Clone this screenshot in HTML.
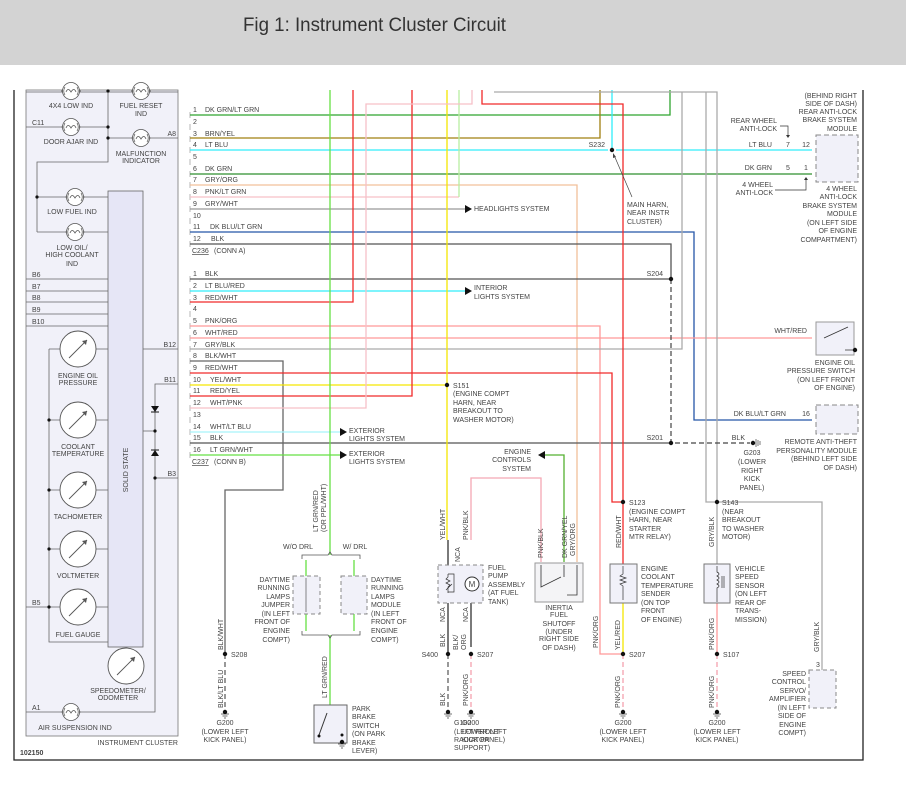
<!DOCTYPE html>
<html><head><meta charset="utf-8"><style>
html,body{margin:0;padding:0;background:#fff;}
svg{display:block;}
text{font-family:"Liberation Sans",sans-serif;font-size:7px;fill:#444;}
.r{text-anchor:end}.m{text-anchor:middle}
</style></head><body>
<svg width="906" height="788" viewBox="0 0 906 788" xmlns="http://www.w3.org/2000/svg">
<defs>
<g id="lamp"><circle r="8.5" fill="#fff" stroke="#555" stroke-width="0.8"/><path d="M-5,1 q2,-5 5,0 q3,-5 5,0 M-10,0 h1.5 M8.5,0 h1.5" fill="none" stroke="#555" stroke-width="0.8"/><path d="M-6,-4 a7,7 0 0 0 0,8 M6,-4 a7,7 0 0 1 0,8" fill="none" stroke="#555" stroke-width="0.7"/></g>
<g id="gauge"><circle r="18" fill="#fff" stroke="#555" stroke-width="0.9"/><path d="M-9,9 L9,-9" stroke="#555" stroke-width="0.9"/><path d="M9,-9 l-5,1 l4,4z" fill="#555"/></g>
<g id="gnd"><path d="M-4,2 h8 M-2.5,4 h5 M-1,6 h2" stroke="#444" stroke-width="0.7"/><circle r="2.2" fill="#111"/></g>
</defs>
<rect x="0" y="0" width="906" height="65" fill="#d3d3d3"/>
<text x="243" y="31" style="font-size:19px;fill:#333" textLength="263" lengthAdjust="spacingAndGlyphs">Fig 1: Instrument Cluster Circuit</text>

<!-- frame -->
<path d="M14,90 V760 H863 V90" fill="none" stroke="#222" stroke-width="1.3"/>

<!-- instrument cluster -->
<rect x="26" y="90" width="152" height="646" fill="#f1f1f9" stroke="#777" stroke-width="0.8"/>
<rect x="108" y="191" width="35" height="456" fill="#e6e6f6" stroke="#666" stroke-width="0.8"/>
<text transform="translate(128,470) rotate(-90)" class="m">SOLID STATE</text>
<g stroke="#666" stroke-width="0.8" fill="none">
<path d="M26,92 H178 M26,127 H108 M108,138 H178 M108,91 V162 H37 V232 M37,197 H108 M37,232 H108"/>
<path d="M26,279 H108 M26,291 H108 M26,302 H108 M26,314 H108 M26,326 H108"/>
<path d="M96,349 H108 M96,420 H108 M96,490 H108 M96,549 H108 M96,607 H108 M49,349 H60 M49,349 V642 H108 M49,420 H60 M49,490 H60 M49,549 H60 M26,607 H60"/>
<path d="M143,349 H178 M178,384 H155 V712 H26 M143,431 H155 M155,478 H178"/>
</g>
<g fill="#111"><circle cx="108" cy="91" r="1.6"/><circle cx="108" cy="127" r="1.6"/><circle cx="108" cy="138" r="1.6"/><circle cx="37" cy="197" r="1.6"/><circle cx="49" cy="420" r="1.6"/><circle cx="49" cy="490" r="1.6"/><circle cx="49" cy="549" r="1.6"/><circle cx="49" cy="607" r="1.6"/><circle cx="155" cy="431" r="1.6"/><circle cx="155" cy="478" r="1.6"/>
<path d="M151,406 h8 l-4,6z M151,456 h8 l-4,-6z"/></g>
<path d="M151,412 h8 M151,450 h8" stroke="#111"/>
<use href="#lamp" x="71" y="91"/><use href="#lamp" x="141" y="91"/><use href="#lamp" x="71" y="127"/><use href="#lamp" x="141" y="138"/><use href="#lamp" x="75" y="197"/><use href="#lamp" x="75" y="232"/><use href="#lamp" x="71" y="712"/>
<use href="#gauge" x="78" y="349"/><use href="#gauge" x="78" y="420"/><use href="#gauge" x="78" y="490"/><use href="#gauge" x="78" y="549"/><use href="#gauge" x="78" y="607"/><use href="#gauge" x="126" y="666"/>
<text x="71" y="108" class="m">4X4 LOW IND</text>
<text x="141" y="108" class="m">FUEL RESET</text><text x="141" y="116" class="m">IND</text>
<text x="32" y="125">C11</text><text x="71" y="144" class="m">DOOR AJAR IND</text>
<text x="176" y="136" class="r">A8</text>
<text x="141" y="156" class="m">MALFUNCTION</text><text x="141" y="163" class="m">INDICATOR</text>
<text x="72" y="214" class="m">LOW FUEL IND</text>
<text x="72" y="250" class="m">LOW OIL/</text><text x="72" y="257" class="m">HIGH COOLANT</text><text x="72" y="266" class="m">IND</text>
<text x="32" y="277">B6</text><text x="32" y="289">B7</text><text x="32" y="300">B8</text><text x="32" y="312">B9</text><text x="32" y="324">B10</text>
<text x="176" y="347" class="r">B12</text><text x="176" y="382" class="r">B11</text><text x="176" y="476" class="r">B3</text><text x="32" y="605">B5</text><text x="32" y="710">A1</text>
<text x="78" y="378" class="m">ENGINE OIL</text><text x="78" y="385" class="m">PRESSURE</text>
<text x="78" y="449" class="m">COOLANT</text><text x="78" y="456" class="m">TEMPERATURE</text>
<text x="78" y="519" class="m">TACHOMETER</text><text x="78" y="578" class="m">VOLTMETER</text><text x="78" y="637" class="m">FUEL GAUGE</text>
<text x="118" y="693" class="m">SPEEDOMETER/</text><text x="118" y="700" class="m">ODOMETER</text>
<text x="75" y="730" class="m">AIR SUSPENSION IND</text>
<text x="178" y="745" class="r">INSTRUMENT CLUSTER</text>
<text x="20" y="755" style="font-weight:bold">102150</text>

<!-- connector marks -->
<g stroke="#888" stroke-width="0.6" fill="none">
<path d="M190,112 v6 M190,124 v6 M190,136 v6 M190,147 v6 M190,159 v6 M190,171 v6 M190,182 v6 M190,194 v6 M190,206 v6 M190,218 v6 M190,229 v6 M190,241 v6"/>
<path d="M190,276 v6 M190,288 v6 M190,299 v6 M190,311 v6 M190,323 v6 M190,335 v6 M190,346 v6 M190,358 v6 M190,370 v6 M190,382 v6 M190,393 v6 M190,405 v6 M190,417 v6 M190,429 v6 M190,440 v6 M190,452 v6"/>
</g>

<!-- wires -->
<g fill="none" stroke-width="1.3">
<path d="M190,115 H670 V90" stroke="#2fa52f"/>
<path d="M190,138 H600 V90" stroke="#a08010"/>
<path d="M190,150 H608 M616,150 H812 M612,150 V90" stroke="#30eefa"/>
<path d="M190,174 H812" stroke="#2f8f2f"/>
<path d="M190,185 H577 V562" stroke="#f2c09a"/>
<path d="M190,197 H459" stroke="#f6c0c8"/><path d="M459,197 V90" stroke="#b8eea0"/>
<path d="M190,209 H465" stroke="#999"/>
<path d="M190,232 H694 V420 H812" stroke="#2556a8"/>
<path d="M190,244 H671 V279 M190,279 H671 M190,443 H671" stroke="#555"/>
<path d="M190,291 H465" stroke="#30eefa"/>
<path d="M190,302 H353 V90" stroke="#f02a2a"/>
<path d="M190,326 H600 V654 H623" stroke="#f99"/>
<path d="M190,338 H812" stroke="#f99"/>
<path d="M190,349 H682 V92 H494 M682,92 H717 V502 M706,92 V502 H717" stroke="#aaa"/>
<path d="M717,502 H822 V670 M717,502 V564" stroke="#aaa"/>
<path d="M190,361 H283 V490 H225 V654" stroke="#666"/>
<path d="M190,373 H612 V502 H623 M482,90 V104 H623 V564" stroke="#f02a2a"/>
<path d="M190,385 H447 M447,90 V540" stroke="#f5e600"/>
<path d="M190,396 H412 V90" stroke="#f02a2a"/>
<path d="M190,408 H366 V104 H472 V90" stroke="#f6c0c8"/>
<path d="M190,432 H340" stroke="#a8f4fa"/>
<path d="M190,455 H340" stroke="#66e044"/>
<path d="M330,90 V555 M330,635 V705" stroke="#66e044"/>
<path d="M471,540 V478 H541 V562" stroke="#f4a8b4"/>
<path d="M545,455 H564 V562" stroke="#55b030"/>
<path d="M623,603 V654" stroke="#f5e600"/>
<path d="M717,603 V654" stroke="#f99"/>
<path d="M448,540 V654 M471,603 V647" stroke="#333"/>
</g>
<path d="M671,279 V443 H750" fill="none" stroke="#444" stroke-width="1.2" stroke-dasharray="5,3"/>
<g fill="none" stroke-width="1.2" stroke-dasharray="5,3">
<path d="M225,654 V712" stroke="#555"/><path d="M448,654 V712" stroke="#555"/>
<path d="M471,654 V712" stroke="#f49aa8"/><path d="M623,654 V712" stroke="#f49aa8"/><path d="M717,654 V712" stroke="#f49aa8"/>
</g>
<!-- arrows -->
<g fill="#111"><path d="M465,205 l7,4 l-7,4z M465,287 l7,4 l-7,4z M340,428 l7,4 l-7,4z M340,451 l7,4 l-7,4z M545,451 l-7,4 l7,4z"/></g>
<!-- splices -->
<g fill="#111"><circle cx="612" cy="150" r="2.2"/><circle cx="671" cy="279" r="2.2"/><circle cx="671" cy="443" r="2.2"/><circle cx="447" cy="385" r="2.2"/><circle cx="623" cy="502" r="2.2"/><circle cx="717" cy="502" r="2.2"/><circle cx="225" cy="654" r="2.2"/><circle cx="448" cy="654" r="2.2"/><circle cx="471" cy="654" r="2.2"/><circle cx="623" cy="654" r="2.2"/><circle cx="717" cy="654" r="2.2"/><circle cx="753" cy="443" r="2.2"/></g>
<path d="M756,439 v8 M758,440 v6 M760,441 v4" stroke="#444" stroke-width="0.7"/>
<use href="#gnd" x="225" y="712"/><use href="#gnd" x="448" y="712"/><use href="#gnd" x="471" y="712"/><use href="#gnd" x="623" y="712"/><use href="#gnd" x="717" y="712"/>

<!-- pin labels A -->
<g>
<text x="193" y="112">1</text><text x="205" y="112">DK GRN/LT GRN</text>
<text x="193" y="124">2</text>
<text x="193" y="136">3</text><text x="205" y="136">BRN/YEL</text>
<text x="193" y="147">4</text><text x="205" y="147">LT BLU</text>
<text x="193" y="159">5</text>
<text x="193" y="171">6</text><text x="205" y="171">DK GRN</text>
<text x="193" y="182">7</text><text x="205" y="182">GRY/ORG</text>
<text x="193" y="194">8</text><text x="205" y="194">PNK/LT GRN</text>
<text x="193" y="206">9</text><text x="205" y="206">GRY/WHT</text>
<text x="193" y="218">10</text>
<text x="193" y="229">11</text><text x="210" y="229">DK BLU/LT GRN</text>
<text x="193" y="241">12</text><text x="211" y="241">BLK</text>
<text x="192" y="253" style="text-decoration:underline">C236</text><text x="214" y="253">(CONN A)</text>
<text x="193" y="276">1</text><text x="205" y="276">BLK</text>
<text x="193" y="288">2</text><text x="205" y="288">LT BLU/RED</text>
<text x="193" y="300">3</text><text x="205" y="300">RED/WHT</text>
<text x="193" y="311">4</text>
<text x="193" y="323">5</text><text x="205" y="323">PNK/ORG</text>
<text x="193" y="335">6</text><text x="205" y="335">WHT/RED</text>
<text x="193" y="347">7</text><text x="205" y="347">GRY/BLK</text>
<text x="193" y="358">8</text><text x="205" y="358">BLK/WHT</text>
<text x="193" y="370">9</text><text x="205" y="370">RED/WHT</text>
<text x="193" y="382">10</text><text x="210" y="382">YEL/WHT</text>
<text x="193" y="393">11</text><text x="210" y="393">RED/YEL</text>
<text x="193" y="405">12</text><text x="210" y="405">WHT/PNK</text>
<text x="193" y="417">13</text>
<text x="193" y="429">14</text><text x="210" y="429">WHT/LT BLU</text>
<text x="193" y="440">15</text><text x="210" y="440">BLK</text>
<text x="193" y="452">16</text><text x="210" y="452">LT GRN/WHT</text>
<text x="192" y="464" style="text-decoration:underline">C237</text><text x="214" y="464">(CONN B)</text>
</g>
<text x="474" y="211">HEADLIGHTS SYSTEM</text>
<text x="474" y="290">INTERIOR</text><text x="474" y="299">LIGHTS SYSTEM</text>
<text x="349" y="433">EXTERIOR</text><text x="349" y="441">LIGHTS SYSTEM</text>
<text x="349" y="456">EXTERIOR</text><text x="349" y="464">LIGHTS SYSTEM</text>
<text x="453" y="388">S151</text><text x="453" y="396">(ENGINE COMPT</text><text x="453" y="405">HARN, NEAR</text><text x="453" y="413">BREAKOUT TO</text><text x="453" y="422">WASHER MOTOR)</text>
<text x="531" y="454" class="r">ENGINE</text><text x="531" y="462" class="r">CONTROLS</text><text x="531" y="471" class="r">SYSTEM</text>
<text x="605" y="147" class="r">S232</text>
<path d="M632,197 L614,155" stroke="#444" stroke-width="0.7"/><path d="M613,153 l0,5 l3,-1z" fill="#444"/>
<text x="627" y="207">MAIN HARN,</text><text x="627" y="215">NEAR INSTR</text><text x="627" y="224">CLUSTER)</text>
<text x="663" y="276" class="r">S204</text><text x="663" y="440" class="r">S201</text>
<text x="745" y="440" class="r">BLK</text>
<text x="752" y="455" class="m">G203</text><text x="752" y="464" class="m">(LOWER</text><text x="752" y="473" class="m">RIGHT</text><text x="752" y="481" class="m">KICK</text><text x="752" y="490" class="m">PANEL)</text>

<!-- right modules -->
<rect x="816" y="135" width="42" height="47" fill="#f1f1f9" stroke="#888" stroke-dasharray="5,3"/>
<rect x="816" y="405" width="42" height="29" fill="#f1f1f9" stroke="#888" stroke-dasharray="5,3"/>
<rect x="816" y="322" width="38" height="33" fill="#f1f1f9" stroke="#999"/>
<path d="M824,338 l24,-11 M845,350 h9" stroke="#333" stroke-width="0.8"/><circle cx="855" cy="350" r="2.2" fill="#111"/>
<text x="857" y="98" class="r">(BEHIND RIGHT</text><text x="857" y="106" class="r">SIDE OF DASH)</text><text x="857" y="114" class="r">REAR ANTI-LOCK</text><text x="857" y="122" class="r">BRAKE SYSTEM</text><text x="857" y="131" class="r">MODULE</text>
<text x="777" y="123" class="r">REAR WHEEL</text><text x="777" y="131" class="r">ANTI-LOCK</text>
<path d="M780,126 H788 V136" stroke="#333" stroke-width="0.7" fill="none"/><path d="M786,135 h4 l-2,3z" fill="#333"/>
<text x="772" y="147" class="r">LT BLU</text><text x="788" y="147" class="m">7</text><text x="806" y="147" class="m">12</text>
<text x="772" y="170" class="r">DK GRN</text><text x="788" y="170" class="m">5</text><text x="806" y="170" class="m">1</text>
<text x="773" y="187" class="r">4 WHEEL</text><text x="773" y="195" class="r">ANTI-LOCK</text>
<path d="M775,190 H806 V179" stroke="#333" stroke-width="0.7" fill="none"/><path d="M804,180 h4 l-2,-3z" fill="#333"/>
<text x="857" y="191" class="r">4 WHEEL</text><text x="857" y="199" class="r">ANTI-LOCK</text><text x="857" y="208" class="r">BRAKE SYSTEM</text><text x="857" y="216" class="r">MODULE</text><text x="857" y="225" class="r">(ON LEFT SIDE</text><text x="857" y="233" class="r">OF ENGINE</text><text x="857" y="242" class="r">COMPARTMENT)</text>
<text x="807" y="333" class="r">WHT/RED</text>
<text x="855" y="365" class="r">ENGINE OIL</text><text x="855" y="373" class="r">PRESSURE SWITCH</text><text x="855" y="382" class="r">(ON LEFT FRONT</text><text x="855" y="390" class="r">OF ENGINE)</text>
<text x="786" y="416" class="r">DK BLU/LT GRN</text><text x="806" y="416" class="m">16</text>
<text x="857" y="444" class="r">REMOTE ANTI-THEFT</text><text x="857" y="453" class="r">PERSONALITY MODULE</text><text x="857" y="461" class="r">(BEHIND LEFT SIDE</text><text x="857" y="470" class="r">OF DASH)</text>

<!-- DRL -->
<text x="298" y="549" class="m">W/O DRL</text><text x="355" y="549" class="m">W/ DRL</text>
<path d="M302,559 v-4 H328 l2,-3 l2,3 H360 v4 M302,631 v4 H328 l2,3 l2,-3 H360 v-4" fill="none" stroke="#555" stroke-width="0.8"/>
<path d="M306,560 V576 M306,614 V631 M354,560 V576 M354,614 V631" stroke="#66e044" stroke-width="1.3"/>
<rect x="293" y="576" width="27" height="38" fill="#f1f1f9" stroke="#888" stroke-dasharray="4,3"/>
<rect x="341" y="576" width="26" height="38" fill="#f1f1f9" stroke="#888" stroke-dasharray="4,3"/>
<path d="M306,578 V612" stroke="#555" stroke-width="0.7"/>
<text x="290" y="582" class="r">DAYTIME</text><text x="290" y="590" class="r">RUNNING</text><text x="290" y="599" class="r">LAMPS</text><text x="290" y="607" class="r">JUMPER</text><text x="290" y="616" class="r">(IN LEFT</text><text x="290" y="624" class="r">FRONT OF</text><text x="290" y="633" class="r">ENGINE</text><text x="290" y="642" class="r">COMPT)</text>
<text x="371" y="582">DAYTIME</text><text x="371" y="590">RUNNING</text><text x="371" y="599">LAMPS</text><text x="371" y="607">MODULE</text><text x="371" y="616">(IN LEFT</text><text x="371" y="624">FRONT OF</text><text x="371" y="633">ENGINE</text><text x="371" y="642">COMPT)</text>
<text transform="translate(318,532) rotate(-90)">LT GRN/RED</text><text transform="translate(326,532) rotate(-90)">(OR PPL/WHT)</text>
<text transform="translate(327,698) rotate(-90)">LT GRN/RED</text>
<rect x="314" y="705" width="33" height="38" fill="#f1f1f9" stroke="#666"/>
<path d="M319,735 l8,-22" stroke="#333"/><circle cx="319" cy="736" r="1.5" fill="#111"/><circle cx="342" cy="735" r="1.5" fill="#111"/><use href="#gnd" x="342" y="742"/>
<text x="352" y="711">PARK</text><text x="352" y="719">BRAKE</text><text x="352" y="728">SWITCH</text><text x="352" y="736">(ON PARK</text><text x="352" y="745">BRAKE</text><text x="352" y="753">LEVER)</text>
<text transform="translate(223,650) rotate(-90)">BLK/WHT</text><text x="231" y="657">S208</text>
<text transform="translate(223,708) rotate(-90)">BLK/LT BLU</text>
<text x="225" y="725" class="m">G200</text><text x="225" y="734" class="m">(LOWER LEFT</text><text x="225" y="742" class="m">KICK PANEL)</text>

<!-- fuel pump -->
<rect x="438" y="565" width="45" height="38" fill="#f1f1f9" stroke="#888" stroke-dasharray="4,3"/>
<circle cx="472" cy="584" r="7" fill="#fff" stroke="#333"/><text x="472" y="587" class="m" style="font-size:8px">M</text>
<path d="M448,574 v3 l-2,2 l4,2 l-4,2 l4,2 l-2,2 v6 M448,574 h6 v18 h-6 M446,590 l6,-6" fill="none" stroke="#333" stroke-width="0.7"/>
<text transform="translate(445,540) rotate(-90)">YEL/WHT</text><text transform="translate(468,540) rotate(-90)">PNK/BLK</text>
<text transform="translate(460,562) rotate(-90)">NCA</text><text transform="translate(445,622) rotate(-90)">NCA</text><text transform="translate(468,622) rotate(-90)">NCA</text>
<text transform="translate(445,647) rotate(-90)">BLK</text><text transform="translate(458,650) rotate(-90)">BLK/</text><text transform="translate(466,650) rotate(-90)">ORG</text>
<text x="488" y="570">FUEL</text><text x="488" y="578">PUMP</text><text x="488" y="587">ASSEMBLY</text><text x="488" y="595">(AT FUEL</text><text x="488" y="604">TANK)</text>
<text x="438" y="657" class="r">S400</text><text x="477" y="657">S207</text>
<text transform="translate(445,706) rotate(-90)">BLK</text><text transform="translate(468,706) rotate(-90)">PNK/ORG</text>
<text x="454" y="725">G100</text><text x="462" y="725">G200</text>
<text x="454" y="734">(LEFT FRONT</text><text x="462" y="734">LOWER LEFT</text>
<text x="454" y="742">RADIATOR</text><text x="462" y="742">KICK PANEL)</text><text x="454" y="750">SUPPORT)</text>

<!-- inertia -->
<rect x="535" y="563" width="48" height="39" fill="#f4f4f6" stroke="#999"/>
<path d="M541,565 v22 l20,-10 M564,565 v12 M577,565 v30 h-10" fill="none" stroke="#333" stroke-width="0.8"/>
<text transform="translate(543,558) rotate(-90)">PNK/BLK</text><text transform="translate(567,558) rotate(-90)">DK GRN/YEL</text><text transform="translate(575,556) rotate(-90)">GRY/ORG</text>
<text x="559" y="610" class="m">INERTIA</text><text x="559" y="617" class="m">FUEL</text><text x="559" y="626" class="m">SHUTOFF</text><text x="559" y="634" class="m">(UNDER</text><text x="559" y="641" class="m">RIGHT SIDE</text><text x="559" y="650" class="m">OF DASH)</text>

<!-- coolant -->
<rect x="610" y="564" width="27" height="39" fill="#f1f1f9" stroke="#777"/>
<path d="M623,566 v8 l-3,2 l6,2 l-6,2 l6,2 l-6,2 l3,2 v14" fill="none" stroke="#333" stroke-width="0.7"/>
<text transform="translate(621,548) rotate(-90)">RED/WHT</text>
<text x="629" y="505">S123</text><text x="629" y="514">(ENGINE COMPT</text><text x="629" y="522">HARN, NEAR</text><text x="629" y="531">STARTER</text><text x="629" y="539">MTR RELAY)</text>
<text x="641" y="571">ENGINE</text><text x="641" y="579">COOLANT</text><text x="641" y="588">TEMPERATURE</text><text x="641" y="596">SENDER</text><text x="641" y="605">(ON TOP</text><text x="641" y="613">FRONT</text><text x="641" y="622">OF ENGINE)</text>
<text transform="translate(598,648) rotate(-90)">PNK/ORG</text><text transform="translate(620,650) rotate(-90)">YEL/RED</text>
<text x="629" y="657">S207</text>
<text transform="translate(620,708) rotate(-90)">PNK/ORG</text>
<text x="623" y="725" class="m">G200</text><text x="623" y="734" class="m">(LOWER LEFT</text><text x="623" y="742" class="m">KICK PANEL)</text>

<!-- VSS -->
<rect x="704" y="564" width="26" height="39" fill="#f1f1f9" stroke="#777"/>
<path d="M717,566 v6 q4,2 0,4 q4,2 0,4 q4,2 0,4 q4,2 0,4 v14 M722,576 v12 M724,576 v12" fill="none" stroke="#333" stroke-width="0.7"/>
<text transform="translate(714,547) rotate(-90)">GRY/BLK</text>
<text x="722" y="505">S143</text><text x="722" y="514">(NEAR</text><text x="722" y="522">BREAKOUT</text><text x="722" y="531">TO WASHER</text><text x="722" y="539">MOTOR)</text>
<text x="735" y="571">VEHICLE</text><text x="735" y="579">SPEED</text><text x="735" y="588">SENSOR</text><text x="735" y="596">(ON LEFT</text><text x="735" y="605">REAR OF</text><text x="735" y="613">TRANS-</text><text x="735" y="622">MISSION)</text>
<text transform="translate(714,650) rotate(-90)">PNK/ORG</text><text x="723" y="657">S107</text>
<text transform="translate(714,708) rotate(-90)">PNK/ORG</text>
<text x="717" y="725" class="m">G200</text><text x="717" y="734" class="m">(LOWER LEFT</text><text x="717" y="742" class="m">KICK PANEL)</text>

<!-- speed control -->
<rect x="809" y="670" width="27" height="38" fill="#f1f1f9" stroke="#888" stroke-dasharray="4,3"/>
<text transform="translate(819,652) rotate(-90)">GRY/BLK</text><text x="816" y="667">3</text>
<text x="806" y="676" class="r">SPEED</text><text x="806" y="684" class="r">CONTROL</text><text x="806" y="693" class="r">SERVO/</text><text x="806" y="701" class="r">AMPLIFIER</text><text x="806" y="710" class="r">(IN LEFT</text><text x="806" y="718" class="r">SIDE OF</text><text x="806" y="727" class="r">ENGINE</text><text x="806" y="735" class="r">COMPT)</text>
</svg>
</body></html>
